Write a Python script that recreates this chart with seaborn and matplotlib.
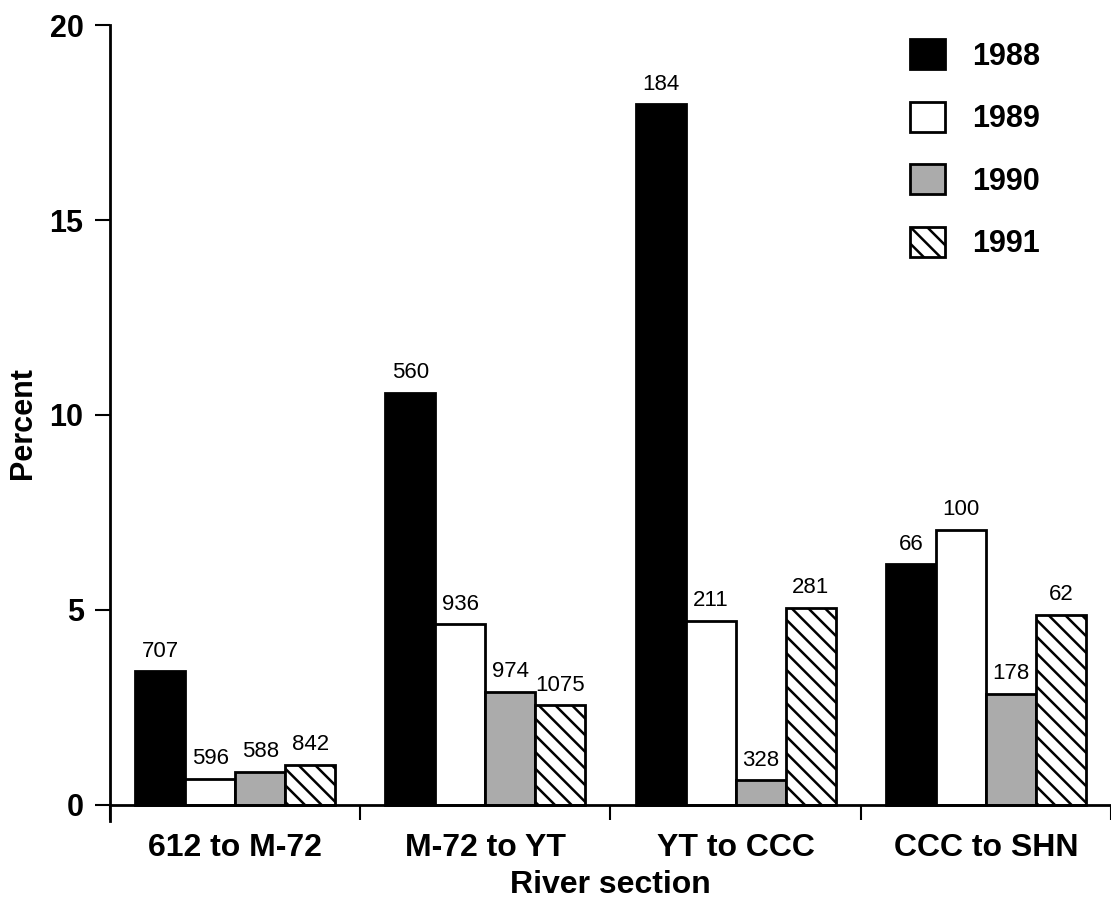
import numpy as np
import pandas as pd
import matplotlib
matplotlib.use("Agg")
import matplotlib.pyplot as plt
from matplotlib.patches import Patch
import seaborn as sns

# données
sections = ["612 to M-72", "M-72 to YT", "YT to CCC", "CCC to SHN"]
years = ["1988", "1989", "1990", "1991"]
pct_1988 = [3.42, 10.56, 17.97, 6.17]
pct_1989 = [0.66, 4.63, 4.72, 7.05]
pct_1990 = [0.85, 2.89, 0.63, 2.84]
pct_1991 = [1.02, 2.55, 5.05, 4.87]
n_1988 = [707, 560, 184, 66]
n_1989 = [596, 936, 211, 100]
n_1990 = [588, 974, 328, 178]
n_1991 = [842, 1075, 281, 62]

pcts = [pct_1988, pct_1989, pct_1990, pct_1991]
ns = [n_1988, n_1989, n_1990, n_1991]
rows = []
for y, p, n in zip(years, pcts, ns):
    for s, v, c in zip(sections, p, n):
        rows.append({"section": s, "year": y, "percent": v, "n": c})
df = pd.DataFrame(rows)

sns.set_style("ticks")
plt.rcParams["font.family"] = ["Liberation Sans", "DejaVu Sans"]
plt.rcParams["hatch.linewidth"] = 1.8
for k in ["text.color", "axes.labelcolor", "xtick.color", "ytick.color", "axes.edgecolor"]:
    plt.rcParams[k] = "black"

colors = ["black", "white", "#ababab", "white"]
hatches = ["", "", "", "\\\\"]

fig = plt.figure(figsize=(11.11, 8.99), dpi=100)
ax = fig.add_axes([0.099, 0.087, 0.901, 0.885])

sns.barplot(data=df, x="section", y="percent", hue="year", order=sections,
            hue_order=years, palette=colors, saturation=1, width=0.8,
            edgecolor="black", linewidth=2, legend=False, ax=ax)

for cont, h, n in zip(ax.containers, hatches, ns):
    for bar in cont:
        bar.set_hatch(h)
    ax.bar_label(cont, labels=[str(v) for v in n], padding=7, fontsize=16)

# axes
ax.set_xlim(-0.5, 3.5)
ax.set_ylim(-0.41, 20)
ax.spines["right"].set_visible(False)
ax.spines["top"].set_visible(False)
ax.spines["bottom"].set_position(("data", 0))
ax.spines["bottom"].set_linewidth(2)
ax.spines["left"].set_linewidth(2)

ax.set_yticks([0, 5, 10, 15, 20])
ax.tick_params(axis="y", length=11, width=1.5, labelsize=22, pad=8)
for t in ax.get_yticklabels():
    t.set_fontweight("bold")

ax.set_xticks(range(4))
ax.set_xticklabels(sections, fontsize=23, fontweight="bold")
ax.tick_params(axis="x", which="major", length=0, pad=20)
ax.set_xticks(np.arange(-0.5, 4, 1), minor=True)
ax.tick_params(axis="x", which="minor", length=11, width=1.5, direction="out")

ax.set_xlabel("River section", fontsize=23, fontweight="bold", labelpad=5)
ax.set_ylabel("Percent", fontsize=22, fontweight="bold", labelpad=8)

handles = [Patch(facecolor=c, edgecolor="black", linewidth=2, hatch=h)
           for c, h in zip(colors, hatches)]
leg = ax.legend(handles, years, loc="upper left", bbox_to_anchor=(0.772, 1.017),
                frameon=False, handlelength=1.15, handleheight=1.15,
                labelspacing=0.98, handletextpad=0.88,
                prop={"size": 22, "weight": "bold"})

fig.savefig("out.png", dpi=100)
